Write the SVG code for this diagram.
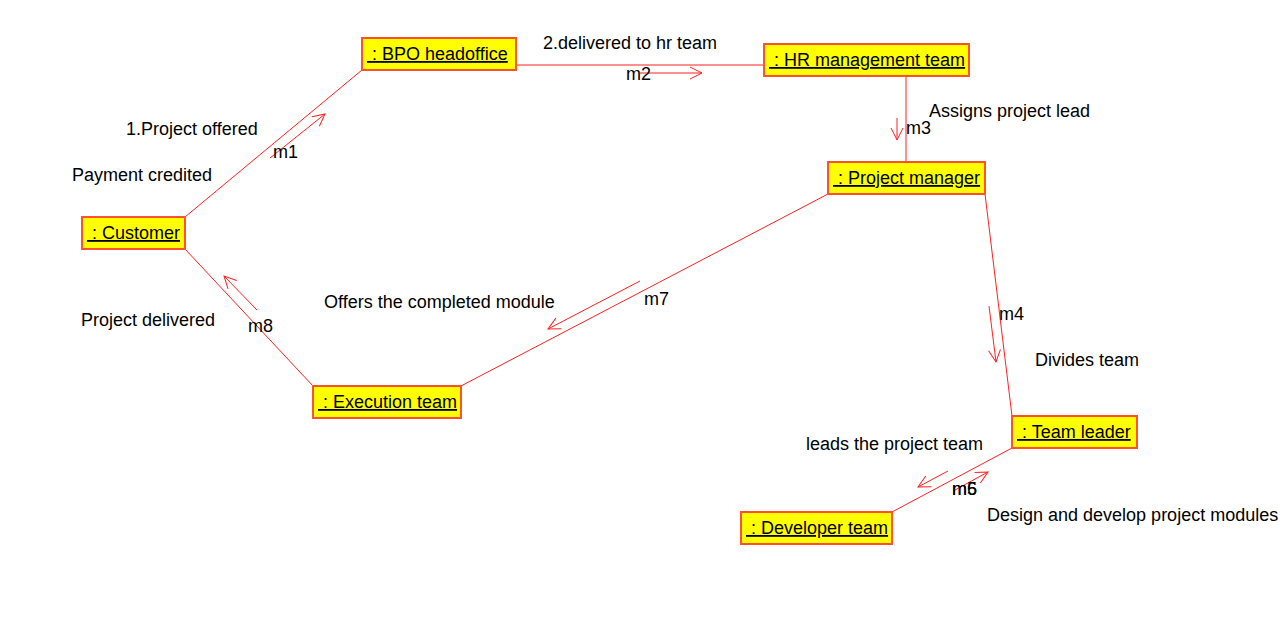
<svg xmlns="http://www.w3.org/2000/svg" width="1285" height="637" viewBox="0 0 1285 637">
<style>
text{font-family:"Liberation Sans",Arial,sans-serif;font-size:18px;fill:#000}
.box{fill:#ffff00;stroke:#ff5030;stroke-width:2}
.nl{text-decoration:underline;white-space:pre}
.link{stroke:#ff2020;stroke-width:1;fill:none}
.msg{stroke:#ff2020;stroke-width:1;fill:none;marker-end:url(#open)}
</style>
<defs>
<marker id="open" viewBox="0 0 14 14" refX="13" refY="7" markerWidth="14" markerHeight="14" markerUnits="userSpaceOnUse" orient="auto">
<path d="M1,1 L13,7 L1,13" fill="none" stroke="#ff2020" stroke-width="1"/>
</marker>
</defs>
<rect width="1285" height="637" fill="#fff"/>
<g id="connectors">
<line class="link" x1="185" y1="217" x2="362" y2="70"/>
<line class="link" x1="516" y1="65" x2="764" y2="65"/>
<line class="link" x1="906" y1="76" x2="906" y2="162"/>
<line class="link" x1="985" y1="194" x2="1012" y2="416"/>
<line class="link" x1="828" y1="194" x2="461" y2="386"/>
<line class="link" x1="185" y1="249" x2="313" y2="386"/>
<line class="link" x1="1012" y1="448" x2="892" y2="512"/>
<line class="msg" x1="270" y1="158" x2="325" y2="114"/>
<line class="msg" x1="640" y1="73" x2="702" y2="73"/>
<line class="msg" x1="897" y1="118" x2="897" y2="140"/>
<line class="msg" x1="989" y1="306" x2="996" y2="362"/>
<line class="msg" x1="640" y1="281" x2="548" y2="329"/>
<line class="msg" x1="257" y1="310" x2="224" y2="276"/>
<line class="msg" x1="948" y1="471" x2="918" y2="487"/>
<line class="msg" x1="955" y1="490" x2="988" y2="472"/>
</g>
<g id="labels">
<text x="126" y="135">1.Project offered</text>
<text x="72" y="181">Payment credited</text>
<text x="273" y="158">m1</text>
<text x="543" y="49">2.delivered to hr team</text>
<text x="626" y="80">m2</text>
<text x="929" y="117">Assigns project lead</text>
<text x="906" y="134">m3</text>
<text x="81" y="326">Project delivered</text>
<text x="248" y="332">m8</text>
<text x="324" y="308">Offers the completed module</text>
<text x="644" y="305">m7</text>
<text x="999" y="320">m4</text>
<text x="1035" y="366">Divides team</text>
<text x="806" y="450">leads the project team</text>
<text x="952" y="495">m5</text>
<text x="952" y="495">m6</text>
<text x="987" y="521">Design and develop project modules</text>
</g>
<g id="bpo"><rect class="box" x="362" y="38" width="154" height="32"/><text class="nl" x="367" y="60" xml:space="preserve"> : BPO headoffice</text></g>
<g id="hr"><rect class="box" x="764" y="44" width="205" height="32"/><text class="nl" x="769" y="66" xml:space="preserve"> : HR management team</text></g>
<g id="pm"><rect class="box" x="828" y="162" width="157" height="32"/><text class="nl" x="833" y="184" xml:space="preserve"> : Project manager</text></g>
<g id="customer"><rect class="box" x="82" y="217" width="103" height="32"/><text class="nl" x="87" y="239" xml:space="preserve"> : Customer</text></g>
<g id="execution"><rect class="box" x="313" y="386" width="148" height="32"/><text class="nl" x="318" y="408" xml:space="preserve"> : Execution team</text></g>
<g id="teamleader"><rect class="box" x="1012" y="416" width="125" height="32"/><text class="nl" x="1017" y="438" xml:space="preserve"> : Team leader</text></g>
<g id="developer"><rect class="box" x="741" y="512" width="151" height="32"/><text class="nl" x="746" y="534" xml:space="preserve"> : Developer team</text></g>
</svg>
